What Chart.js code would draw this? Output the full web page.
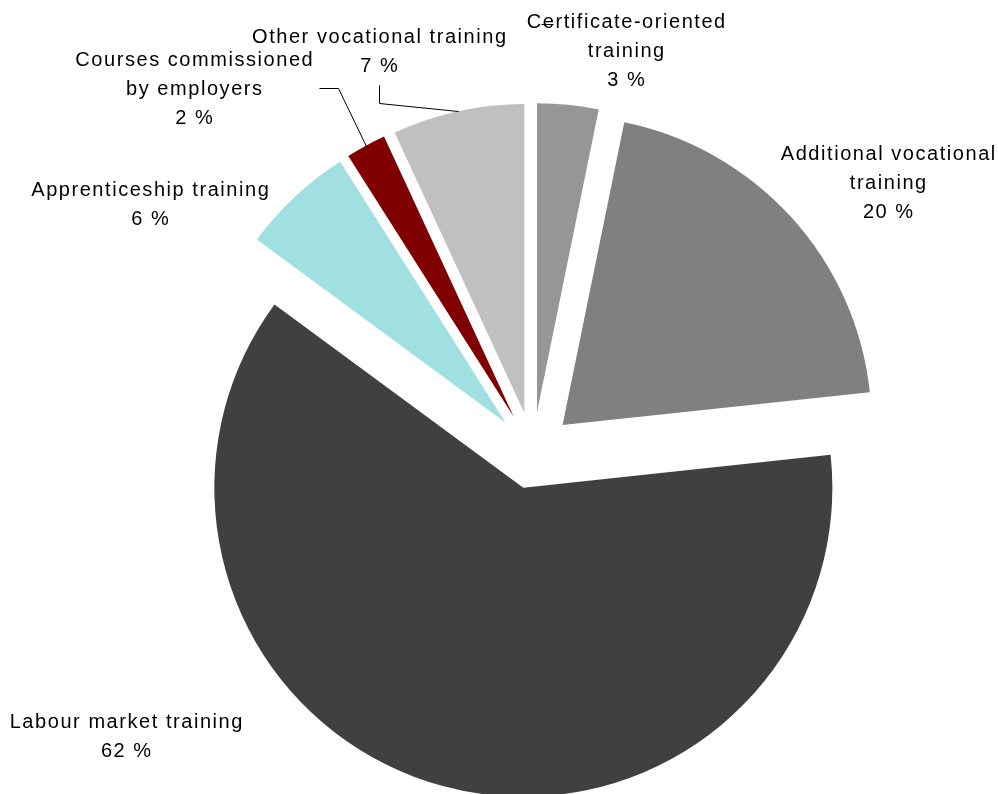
<!DOCTYPE html>
<html>
<head>
<meta charset="utf-8">
<style>
html,body{margin:0;padding:0;background:#ffffff;}
#wrap{width:998px;height:794px;position:relative;}
</style>
<script src="https://cdn.jsdelivr.net/npm/chart.js@4.4.1/dist/chart.umd.min.js"></script>
</head>
<body>
<div id="wrap"><canvas id="c"></canvas></div>
<script>
// ---- data ----
const categories = [
  'Certificate-oriented training',
  'Additional vocational training',
  'Labour market training',
  'Apprenticeship training',
  'Courses commissioned by employers',
  'Other vocational training'
];
const shares = [3.2, 20.1, 61.8, 5.9, 2.1, 6.9];
const percentLabels = ['3 %', '20 %', '62 %', '6 %', '2 %', '7 %'];
const labelLines = [
  ['Certificate-oriented', 'training'],
  ['Additional vocational', 'training'],
  ['Labour market training'],
  ['Apprenticeship training'],
  ['Courses commissioned', 'by employers'],
  ['Other vocational training']
];
const sliceColors = ['#969696', '#808080', '#404040', '#a0e0e0', '#800000', '#c0c0c0'];

// ---- layout / style ----
const explodeDistances = [40, 40, 37, 40, 40, 40];
const pieRadius = 309;
const lineHeight = 29;
const labelLayout = [
  {x: 626, y: 28, leader: [[541, 24], [553, 24]], toArc: false},
  {x: 888, y: 160},
  {x: 126, y: 728},
  {x: 150, y: 196},
  {x: 194, y: 66, leader: [[319, 88], [338, 88]], toArc: true},
  {x: 379, y: 43, leader: [[379, 85], [379, 103]], toArc: true}
];

const explodePlugin = {
  id: 'explode',
  afterDatasetsUpdate(chart) {
    chart.getDatasetMeta(0).data.forEach((arc, i) => {
      const mid = (arc.startAngle + arc.endAngle) / 2;
      arc.x += Math.cos(mid) * explodeDistances[i];
      arc.y += Math.sin(mid) * explodeDistances[i];
    });
  }
};

const labelPlugin = {
  id: 'sliceLabels',
  afterDraw(chart) {
    const ctx = chart.ctx;
    const arcs = chart.getDatasetMeta(0).data;
    ctx.save();
    ctx.font = '20px "Liberation Sans", Arial, sans-serif';
    try { ctx.letterSpacing = '1.55px'; } catch (e) {}
    ctx.fillStyle = '#000000';
    ctx.textAlign = 'center';
    ctx.textBaseline = 'alphabetic';
    labelLayout.forEach((lay, i) => {
      const lines = labelLines[i].concat([percentLabels[i]]);
      lines.forEach((t, k) => ctx.fillText(t, lay.x + 0.8, lay.y + k * lineHeight));
      if (lay.leader) {
        const pts = lay.leader.slice();
        if (lay.toArc) {
          const arc = arcs[i];
          const mid = (arc.startAngle + arc.endAngle) / 2;
          pts.push([arc.x + Math.cos(mid) * arc.outerRadius, arc.y + Math.sin(mid) * arc.outerRadius]);
        }
        ctx.beginPath();
        ctx.strokeStyle = '#000000';
        ctx.lineWidth = 1;
        pts.forEach((p, k) => {
          const px = Math.round(p[0]) + 0.5, py = Math.round(p[1]) + 0.5;
          if (k === 0) ctx.moveTo(px, py); else ctx.lineTo(px, py);
        });
        ctx.stroke();
      }
    });
    ctx.restore();
  }
};

new Chart(document.getElementById('c'), {
  type: 'pie',
  data: {
    labels: categories,
    datasets: [{
      data: shares,
      backgroundColor: sliceColors,
      borderWidth: 0,
      radius: pieRadius
    }]
  },
  options: {
    responsive: true,
    maintainAspectRatio: false,
    animation: false,
    layout: {padding: {left: 68, top: 110, right: 0, bottom: 0}},
    plugins: {
      legend: {display: false},
      tooltip: {enabled: false}
    }
  },
  plugins: [explodePlugin, labelPlugin]
});
</script>
</body>
</html>
